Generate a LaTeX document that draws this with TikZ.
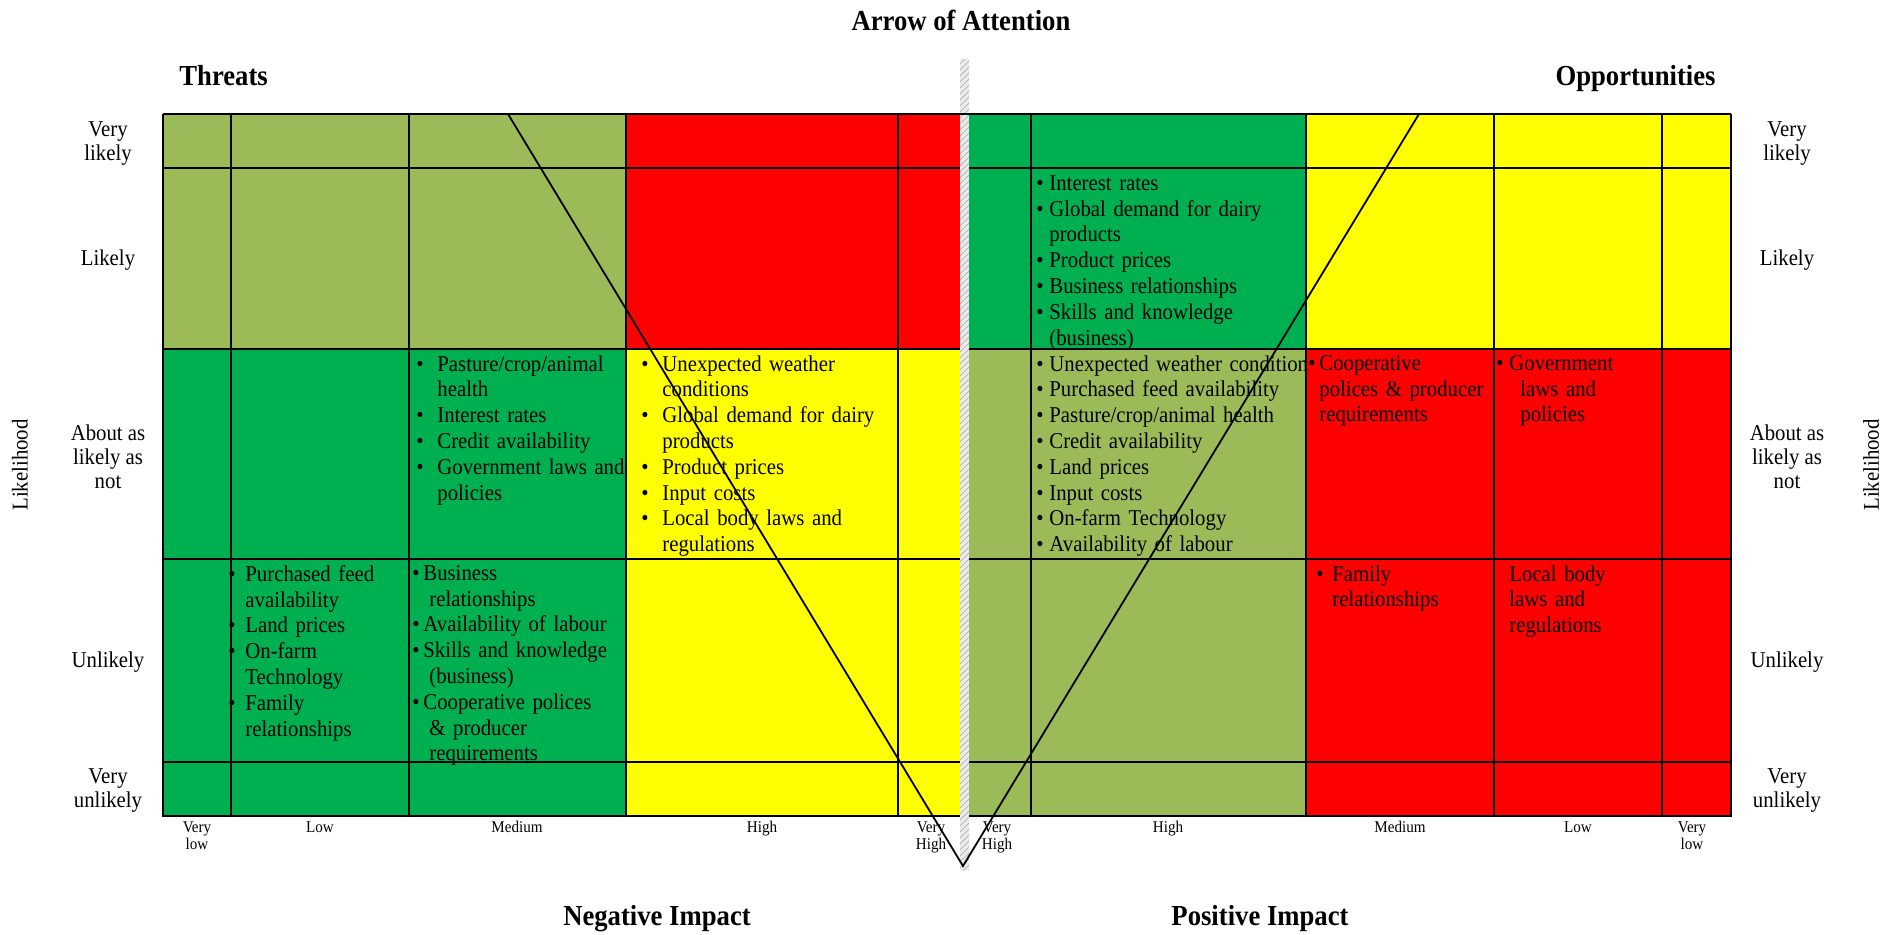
\documentclass[tikz,border=0pt]{standalone}
\usepackage{fontspec}
\setmainfont{Liberation Serif}[FakeStretch=0.92]
\usepackage{tikz}
\usetikzlibrary{patterns}

\definecolor{riskolive}{HTML}{9BBB59}
\definecolor{riskgreen}{HTML}{00B050}
\definecolor{riskred}{HTML}{FF0000}
\definecolor{riskyellow}{HTML}{FFFF00}

%% bullet item: #1 gap to text, #2 indent of next lines, #3 text
\newcommand{\itm}[3]{\noindent\hangindent=#2\hangafter=1\makebox[#1][l]{\textbullet}#3\par}

\begin{document}
\begin{tikzpicture}%
        [x=0.5pt, y=-0.5pt,
        gridline/.style={black, line width=1pt},
        border/.style={black, line width=1.4pt},
        arrowline/.style={black, line width=0.9pt},
        items/.style={anchor=north west, inner sep=0pt, align=left, text width=160pt,
                      font=\fontsize{11.3}{12.9}\selectfont},
        rowlab/.style={align=center, inner sep=0pt, font=\fontsize{11.3}{12}\selectfont},
        axlab/.style={anchor=north, align=center, inner sep=0pt, font=\fontsize{8.2}{8.6}\selectfont},
        heading/.style={inner sep=0pt, font=\fontsize{14.5}{16}\selectfont\bfseries}]
    \useasboundingbox (0,0) rectangle (1885,934);
    %%
    %% Headings
    \node[heading, anchor=base] (attention) at (961,30) {Arrow of Attention};
    \node[heading, anchor=base west] (threats) at (179,85) {Threats};
    \node[heading, anchor=base east] (opport) at (1716,85) {Opportunities};
    \node[heading, anchor=base] (negimp) at (657,925) {Negative Impact};
    \node[heading, anchor=base] (posimp) at (1260,925) {Positive Impact};
    %%
    %% Coloured cells, threats side
    \fill[riskolive] (163,114) rectangle (626,349);
    \fill[riskred] (626,114) rectangle (960,349);
    \fill[riskgreen] (163,349) rectangle (626,816);
    \fill[riskyellow] (626,349) rectangle (960,816);
    %% Coloured cells, opportunities side
    \fill[riskgreen] (969,114) rectangle (1306,349);
    \fill[riskyellow] (1306,114) rectangle (1731,349);
    \fill[riskolive] (969,349) rectangle (1306,816);
    \fill[riskred] (1306,349) rectangle (1731,816);
    %%
    %% Cell texts, threats side
    \node[items] (thrA) at (416,355) {\itm{10.5pt}{10.5pt}{Pasture/crop/animal\newline health}
        \itm{10.5pt}{10.5pt}{Interest rates}
        \itm{10.5pt}{10.5pt}{Credit availability}
        \itm{10.5pt}{10.5pt}{Government laws and\newline policies}};
    \node[items] (thrB) at (641,355) {\itm{10.5pt}{10.5pt}{Unexpected weather\newline conditions}
        \itm{10.5pt}{10.5pt}{Global demand for dairy\newline products}
        \itm{10.5pt}{10.5pt}{Product prices}
        \itm{10.5pt}{10.5pt}{Input costs}
        \itm{10.5pt}{10.5pt}{Local body laws and\newline regulations}};
    \node[items] (thrC) at (228,565) {\itm{8.5pt}{8.5pt}{Purchased feed\newline availability}
        \itm{8.5pt}{8.5pt}{Land prices}
        \itm{8.5pt}{8.5pt}{On-farm\newline Technology}
        \itm{8.5pt}{8.5pt}{Family\newline relationships}};
    \node[items] (thrD) at (412,565) {\itm{5.5pt}{8.5pt}{Business\newline relationships}
        \itm{5.5pt}{8.5pt}{Availability of labour}
        \itm{5.5pt}{8.5pt}{Skills and knowledge\newline (business)}
        \itm{5.5pt}{8.5pt}{Cooperative polices\newline \& producer\newline requirements}};
    %%
    %% Cell texts, opportunities side
    \node[items] (oppA) at (1036,175) {\itm{6.5pt}{6.5pt}{Interest rates}
        \itm{6.5pt}{6.5pt}{Global demand for dairy\newline products}
        \itm{6.5pt}{6.5pt}{Product prices}
        \itm{6.5pt}{6.5pt}{Business relationships}
        \itm{6.5pt}{6.5pt}{Skills and knowledge\newline (business)}};
    \begin{scope}
        \clip (1031,349) rectangle (1308,559);
        \node[items] (oppB) at (1036,355) {\itm{6.5pt}{6.5pt}{Unexpected weather conditions}
            \itm{6.5pt}{6.5pt}{Purchased feed availability}
            \itm{6.5pt}{6.5pt}{Pasture/crop/animal health}
            \itm{6.5pt}{6.5pt}{Credit availability}
            \itm{6.5pt}{6.5pt}{Land prices}
            \itm{6.5pt}{6.5pt}{Input costs}
            \itm{6.5pt}{6.5pt}{On-farm Technology}
            \itm{6.5pt}{6.5pt}{Availability of labour}};
    \end{scope}
    \node[items] (oppC) at (1308,355) {\itm{5.5pt}{5.5pt}{Cooperative\newline polices \& producer\newline requirements}};
    \node[items] (oppD) at (1496,355) {\itm{6.5pt}{12pt}{Government\newline laws and\newline policies}};
    \node[items] (oppE) at (1316,565) {\itm{8pt}{8pt}{Family\newline relationships}};
    \node[items] (oppF) at (1509,565) {Local body\newline laws and\newline regulations};
    %%
    %% Grid, threats side
    \draw[gridline] (231,114) -- (231,816);
    \draw[gridline] (409,114) -- (409,816);
    \draw[gridline] (626,114) -- (626,816);
    \draw[gridline] (898,114) -- (898,816);
    \draw[gridline] (163,168) -- (960,168);
    \draw[gridline] (163,349) -- (960,349);
    \draw[gridline] (163,559) -- (960,559);
    \draw[gridline] (163,762) -- (960,762);
    %% Grid, opportunities side
    \draw[gridline] (1031,114) -- (1031,816);
    \draw[gridline] (1306,114) -- (1306,816);
    \draw[gridline] (1494,114) -- (1494,816);
    \draw[gridline] (1662,114) -- (1662,816);
    \draw[gridline] (969,168) -- (1731,168);
    \draw[gridline] (969,349) -- (1731,349);
    \draw[gridline] (969,559) -- (1731,559);
    \draw[gridline] (969,762) -- (1731,762);
    %%
    %% Dividing bar
    \fill[gray!15] (960,59) rectangle (969,870);
    \fill[pattern=north east lines, pattern color=gray!55] (960,59) rectangle (969,870);
    %%
    %% Borders
    \draw[border] (163,114) -- (1731,114);
    \draw[border] (163,114) -- (163,816) -- (960,816);
    \draw[border] (969,816) -- (1731,816) -- (1731,114);
    %%
    %% Arrow of attention
    \coordinate (vleft) at (508,114);
    \coordinate (vtip) at (963,866);
    \coordinate (vright) at (1419,114);
    \draw[arrowline, line join=miter] (vleft) -- (vtip) -- (vright);
    %%
    %% Likelihood labels, left
    \node[rowlab] (lvl) at (108,144) {Very\\likely};
    \node[rowlab] (ll) at (108,260) {Likely};
    \node[rowlab] (lal) at (108,457) {About as\\likely as\\not};
    \node[rowlab] (lu) at (108,662) {Unlikely};
    \node[rowlab] (lvu) at (108,791) {Very\\unlikely};
    \node[rowlab, rotate=90] (lhood) at (20,465) {Likelihood};
    %% Likelihood labels, right
    \node[rowlab] (rvl) at (1787,144) {Very\\likely};
    \node[rowlab] (rl) at (1787,260) {Likely};
    \node[rowlab] (ral) at (1787,457) {About as\\likely as\\not};
    \node[rowlab] (ru) at (1787,662) {Unlikely};
    \node[rowlab] (rvu) at (1787,791) {Very\\unlikely};
    \node[rowlab, rotate=90] (rhood) at (1871,465) {Likelihood};
    %%
    %% Impact labels
    \node[axlab] (nvl) at (197,821) {Very\\low};
    \node[axlab] (nl) at (320,821) {Low};
    \node[axlab] (nm) at (517,821) {Medium};
    \node[axlab] (nh) at (762,821) {High};
    \node[axlab] (nvh) at (931,821) {Very\\High};
    \node[axlab] (pvh) at (997,821) {Very\\High};
    \node[axlab] (ph) at (1168,821) {High};
    \node[axlab] (pm) at (1400,821) {Medium};
    \node[axlab] (pl) at (1578,821) {Low};
    \node[axlab] (pvl) at (1692,821) {Very\\low};
    %%
\end{tikzpicture}
\end{document}
